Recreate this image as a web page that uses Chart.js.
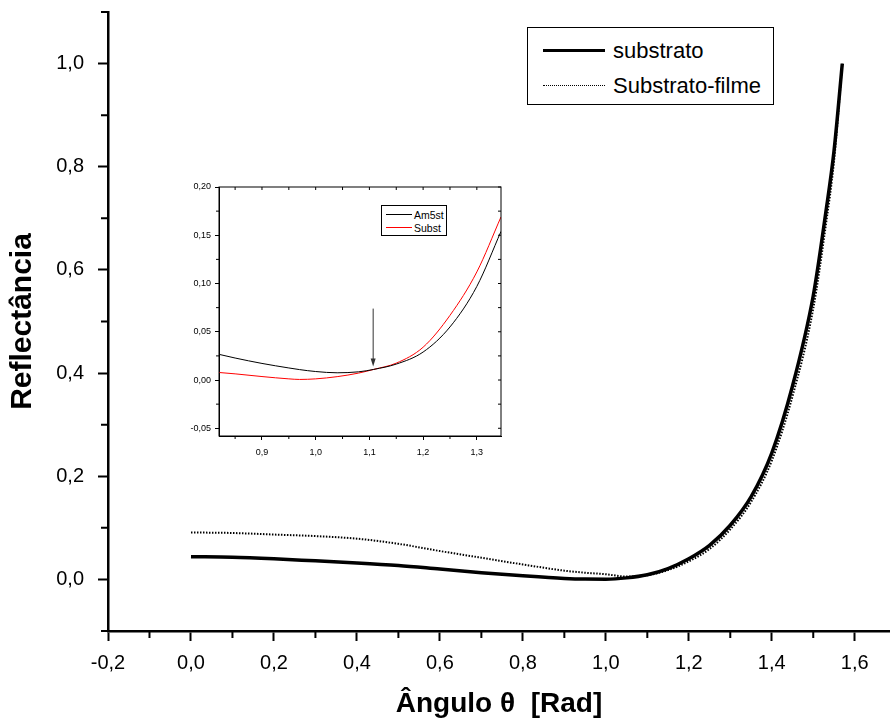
<!DOCTYPE html>
<html>
<head>
<meta charset="utf-8">
<script src="https://cdn.jsdelivr.net/npm/chart.js@4.4.1/dist/chart.umd.min.js"></script>
<style>
    html, body { margin: 0; padding: 0; background: #fff; }
    #wrap { position: relative; width: 890px; height: 721px; overflow: hidden; }
    #main-chart { position: absolute; left: 0; top: 0; }
    #inset-chart { position: absolute; left: 165px; top: 178px; background: #fff; }
    .legend {
        position: absolute; box-sizing: border-box; background: #fff;
        border: 1px solid #000; font-family: Arial, 'Liberation Sans', sans-serif; color: #000;
    }
    .legend .row { display: flex; align-items: center; white-space: nowrap; }
    .legend .swatch { display: inline-block; flex: none; }
    #main-legend { left: 527px; top: 27px; width: 247px; height: 78px; padding: 5px 0 0 15px; font-size: 22px; }
    #main-legend .row { height: 35px; }
    #main-legend .swatch { width: 62px; margin-right: 8px; }
    #inset-legend { left: 381px; top: 205px; width: 66px; height: 31px; padding: 2px 0 0 4px; font-size: 10.5px; }
    #inset-legend .row { height: 13px; }
    #inset-legend .swatch { width: 26px; margin-right: 2px; }
</style>
</head>
<body>
<div id="wrap">
    <canvas id="main-chart" width="890" height="721"></canvas>
    <canvas id="inset-chart" width="345" height="284"></canvas>
    <div id="main-legend" class="legend"></div>
    <div id="inset-legend" class="legend"></div>
</div>
<script>
    // main plot: reflectance vs angle (rad)
    const angles = [0, 0.1, 0.2, 0.3, 0.4, 0.5, 0.6, 0.7, 0.8, 0.9, 0.95, 1.0, 1.05, 1.1, 1.15, 1.2, 1.25, 1.3, 1.35, 1.4, 1.45, 1.5, 1.53, 1.55, 1.57];
    const substrato = [0.044, 0.043, 0.040, 0.036, 0.032, 0.027, 0.020, 0.013, 0.007, 0.002, 0.0007, 0.0005, 0.003, 0.009, 0.021, 0.040, 0.066, 0.105, 0.16, 0.245, 0.375, 0.55, 0.71, 0.83, 1.0];
    const substratoFilme = [0.091, 0.090, 0.087, 0.084, 0.079, 0.069, 0.055, 0.042, 0.029, 0.017, 0.013, 0.010, 0.0055, 0.008, 0.018, 0.035, 0.059, 0.097, 0.15, 0.23, 0.355, 0.525, 0.685, 0.81, 1.0];
    const xTicksMain = [-0.2, 0, 0.2, 0.4, 0.6, 0.8, 1.0, 1.2, 1.4, 1.6];
    const xMinorMain = [-0.1, 0.1, 0.3, 0.5, 0.7, 0.9, 1.1, 1.3, 1.5];
    const yTicksMain = [0, 0.2, 0.4, 0.6, 0.8, 1.0];
    const yMinorMain = [-0.1, 0.1, 0.3, 0.5, 0.7, 0.9, 1.1];

    // inset: zoom around the crossing
    const insetAngles = [0.82, 0.85, 0.9, 0.95, 0.97, 1.0, 1.04, 1.08, 1.108, 1.15, 1.2, 1.25, 1.3, 1.345];
    const am5st = [0.0266, 0.0228, 0.0172, 0.0125, 0.0108, 0.0088, 0.0075, 0.0085, 0.011, 0.0165, 0.029, 0.055, 0.097, 0.154];
    const subst = [0.0078, 0.0064, 0.0036, 0.0012, 0.0006, 0.0012, 0.0035, 0.0072, 0.011, 0.0175, 0.034, 0.067, 0.112, 0.169];
    const xTicksInset = [0.9, 1.0, 1.1, 1.2, 1.3];
    const xMinorInset = [0.85, 0.95, 1.05, 1.15, 1.25, 1.35];
    const yTicksInset = [-0.05, 0, 0.05, 0.10, 0.15, 0.20];
    const yMinorInset = [-0.025, 0.025, 0.075, 0.125, 0.175];
    const arrowAt = { x: 1.107, yFrom: 0.074, yTo: 0.014 };

    const FONT = "Arial, 'Liberation Sans', sans-serif";

    function toPoints(xs, ys) {
        return xs.map((x, i) => ({ x: x, y: ys[i] }));
    }

    function commaLabel(decimals) {
        return (value) => value.toFixed(decimals).replace('.', ',');
    }

    // minor ticks + optional mirrored ticks / frame
    const minorTicksPlugin = {
        id: 'minorTicks',
        afterDraw(chart, args, opts) {
            const ctx = chart.ctx;
            const { left, right, top, bottom } = chart.chartArea;
            const xs = chart.scales.x;
            const ys = chart.scales.y;
            ctx.save();
            ctx.strokeStyle = '#000';
            ctx.lineWidth = opts.width;
            ctx.beginPath();
            opts.xMinor.forEach((v) => {
                const px = xs.getPixelForValue(v);
                if (px < left - 0.5 || px > right + 0.5) return;
                ctx.moveTo(px, bottom);
                ctx.lineTo(px, bottom + opts.minorLength);
            });
            opts.yMinor.forEach((v) => {
                const py = ys.getPixelForValue(v);
                if (py < top - 1 || py > bottom + 1) return;
                ctx.moveTo(left, py);
                ctx.lineTo(left - opts.minorLength, py);
            });
            if (opts.frame) {
                opts.xMinor.concat(opts.xMajor).forEach((v) => {
                    const px = xs.getPixelForValue(v);
                    if (px < left || px > right) return;
                    ctx.moveTo(px, top);
                    ctx.lineTo(px, top + opts.minorLength);
                });
                opts.yMinor.concat(opts.yMajor).forEach((v) => {
                    const py = ys.getPixelForValue(v);
                    if (py < top || py > bottom) return;
                    ctx.moveTo(right, py);
                    ctx.lineTo(right - opts.minorLength, py);
                });
            }
            ctx.stroke();
            if (opts.frame) {
                ctx.lineWidth = 1;
                ctx.strokeRect(left, top, right - left, bottom - top);
            }
            ctx.restore();
        }
    };

    const arrowPlugin = {
        id: 'arrow',
        afterDatasetsDraw(chart, args, opts) {
            if (!opts.at) return;
            const ctx = chart.ctx;
            const px = chart.scales.x.getPixelForValue(opts.at.x);
            const y1 = chart.scales.y.getPixelForValue(opts.at.yFrom);
            const y2 = chart.scales.y.getPixelForValue(opts.at.yTo);
            ctx.save();
            ctx.strokeStyle = '#333';
            ctx.fillStyle = '#333';
            ctx.lineWidth = 1;
            ctx.beginPath();
            ctx.moveTo(px, y1);
            ctx.lineTo(px, y2 - 6);
            ctx.stroke();
            ctx.beginPath();
            ctx.moveTo(px - 2.5, y2 - 8);
            ctx.lineTo(px + 2.5, y2 - 8);
            ctx.lineTo(px, y2);
            ctx.closePath();
            ctx.fill();
            ctx.restore();
        }
    };

    function axis(opts) {
        return {
            type: 'linear',
            min: opts.min,
            max: opts.max,
            title: opts.title,
            afterBuildTicks: (scale) => {
                scale.ticks = opts.ticks.map((v) => ({ value: v }));
            },
            afterFit: (scale) => {
                if (opts.width) {
                    scale.width = opts.width;
                    scale.paddingTop = 0;
                    scale.paddingBottom = 0;
                }
                if (opts.height) scale.height = opts.height;
            },
            ticks: {
                color: '#000',
                font: { family: FONT, size: opts.fontSize },
                padding: opts.padding,
                maxRotation: 0,
                autoSkip: false,
                callback: commaLabel(opts.decimals),
            },
            grid: {
                drawOnChartArea: false,
                drawTicks: true,
                tickLength: opts.tickLength,
                tickWidth: opts.tickWidth,
                tickColor: '#000',
            },
            border: { color: '#000', width: opts.borderWidth },
        };
    }

    const mainChart = new Chart(document.getElementById('main-chart'), {
        type: 'line',
        data: {
            datasets: [
                {
                    label: 'substrato',
                    data: toPoints(angles, substrato),
                    borderColor: '#000',
                    borderWidth: 3.5,
                    pointRadius: 0,
                    cubicInterpolationMode: 'monotone',
                },
                {
                    label: 'Substrato-filme',
                    data: toPoints(angles, substratoFilme),
                    borderColor: '#000',
                    borderWidth: 2,
                    borderDash: [1.5, 1.5],
                    pointRadius: 0,
                    cubicInterpolationMode: 'monotone',
                },
            ],
        },
        options: {
            responsive: false,
            animation: false,
            layout: { padding: { top: 12, right: 0, left: 0, bottom: 0 } },
            plugins: {
                legend: { display: false },
                tooltip: { enabled: false },
                minorTicks: { xMinor: xMinorMain, yMinor: yMinorMain, xMajor: xTicksMain, yMajor: yTicksMain, minorLength: 7, width: 2, frame: false },
                arrow: {},
            },
            scales: {
                x: axis({
                    min: -0.2, max: 1.685, ticks: xTicksMain, decimals: 1, fontSize: 20, padding: 10,
                    tickLength: 10, tickWidth: 2, borderWidth: 2.5, height: 90,
                    title: { display: true, text: 'Ângulo θ  [Rad]', color: '#000', font: { family: FONT, size: 28, weight: 'bold' }, padding: { top: 0, bottom: 0 } },
                }),
                y: axis({
                    min: -0.1, max: 1.1, ticks: yTicksMain, decimals: 1, fontSize: 20, padding: 14,
                    tickLength: 10, tickWidth: 2, borderWidth: 2.5, width: 108,
                    title: { display: true, text: 'Reflectância', color: '#000', font: { family: FONT, size: 30, weight: 'bold' }, padding: { top: 5, bottom: 0 } },
                }),
            },
        },
        plugins: [minorTicksPlugin, arrowPlugin],
    });

    const insetChart = new Chart(document.getElementById('inset-chart'), {
        type: 'line',
        data: {
            datasets: [
                {
                    label: 'Am5st',
                    data: toPoints(insetAngles, am5st),
                    borderColor: '#000',
                    borderWidth: 1,
                    pointRadius: 0,
                    cubicInterpolationMode: 'monotone',
                },
                {
                    label: 'Subst',
                    data: toPoints(insetAngles, subst),
                    borderColor: '#ff0000',
                    borderWidth: 1,
                    pointRadius: 0,
                    cubicInterpolationMode: 'monotone',
                },
            ],
        },
        options: {
            responsive: false,
            animation: false,
            layout: { padding: { top: 9, right: 9, left: 0, bottom: 0 } },
            plugins: {
                legend: { display: false },
                tooltip: { enabled: false },
                minorTicks: { xMinor: xMinorInset, yMinor: yMinorInset, xMajor: xTicksInset, yMajor: yTicksInset, minorLength: 3, width: 1, frame: true },
                arrow: { at: arrowAt },
            },
            scales: {
                x: axis({
                    min: 0.82, max: 1.345, ticks: xTicksInset, decimals: 1, fontSize: 9, padding: 7,
                    tickLength: 4, tickWidth: 1, borderWidth: 1, height: 26,
                }),
                y: axis({
                    min: -0.058, max: 0.20, ticks: yTicksInset, decimals: 2, fontSize: 9, padding: 4,
                    tickLength: 4, tickWidth: 1, borderWidth: 1, width: 54,
                }),
            },
        },
        plugins: [minorTicksPlugin, arrowPlugin],
    });

    function buildLegend(chart, id, lineStyle) {
        const box = document.getElementById(id);
        chart.data.datasets.forEach((ds, i) => {
            const row = document.createElement('div');
            row.className = 'row';
            const sw = document.createElement('span');
            sw.className = 'swatch';
            sw.style.borderTop = lineStyle(ds, i);
            const txt = document.createElement('span');
            txt.textContent = ds.label;
            row.appendChild(sw);
            row.appendChild(txt);
            box.appendChild(row);
        });
    }

    buildLegend(mainChart, 'main-legend', (ds) => ds.borderDash ? '1.5px dotted #000' : '3px solid #000');
    buildLegend(insetChart, 'inset-legend', (ds) => '1px solid ' + ds.borderColor);
</script>
</body>
</html>
